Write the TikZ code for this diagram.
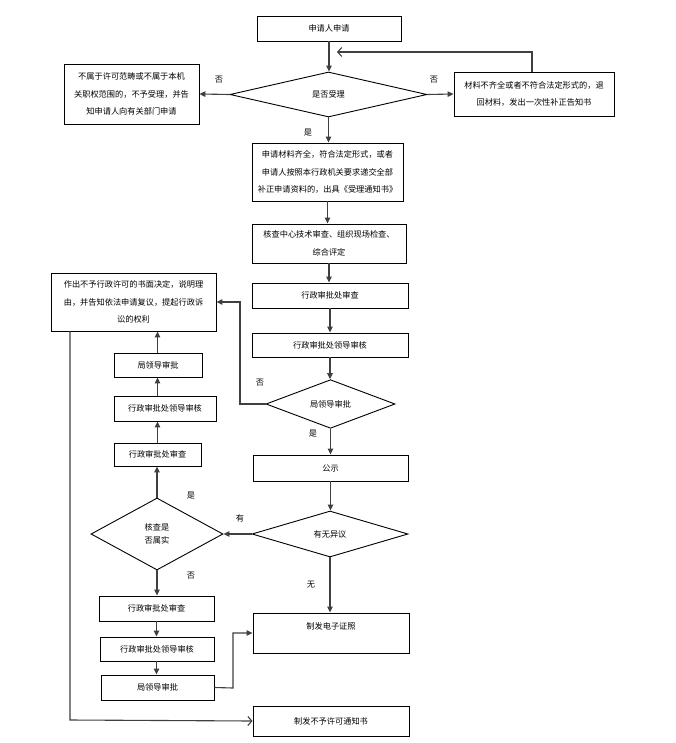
\documentclass[tikz,border=0pt]{standalone}
\usepackage{fontspec}
\setmainfont{Noto Sans CJK SC}
\usetikzlibrary{shapes.geometric,arrows.meta}
\begin{document}
\begin{tikzpicture}[x=1pt,y=-1pt,
  every node/.style={font=\fontsize{8.2}{17.5}\selectfont},
  box/.style={draw=black,line width=0.9pt,rectangle,inner sep=0pt,align=center},
  dia/.style={draw=black,line width=0.9pt,diamond,inner sep=0pt,align=center},
  lab/.style={inner sep=0pt},
  conn/.style={draw=black!75,line width=1.1pt,-{Triangle[length=6pt,width=5.5pt]}},
  openconn/.style={draw=black!75,line width=1.1pt,-{Straight Barb[length=4pt,width=9pt]}}
]
\useasboundingbox (0,0) rectangle (675,743);
\fill[white] (0,0) rectangle (675,743);

% nodes
\node[box,minimum width=144pt,minimum height=25pt] (apply) at (329,28.5) {申请人申请};
\node[dia,minimum width=197pt,minimum height=45pt] (d1) at (328.5,94.5) {是否受理};
\node[box,minimum width=135pt,minimum height=60pt] (leftno) at (131.5,94) {不属于许可范畴或不属于本机\\关职权范围的，不予受理，并告\\知申请人向有关部门申请};
\node[box,minimum width=160pt,minimum height=44pt] (rightno) at (534,94) {材料不齐全或者不符合法定形式的，退\\回材料，发出一次性补正告知书};
\node[box,minimum width=151pt,minimum height=58pt] (accept) at (327.5,172) {申请材料齐全，符合法定形式，或者\\申请人按照本行政机关要求递交全部\\补正申请资料的，出具《受理通知书》};
\node[box,minimum width=154pt,minimum height=39pt] (review) at (329,243.5) {核查中心技术审查、组织现场检查、\\综合评定};
\node[box,minimum width=156pt,minimum height=25pt] (r1) at (330,295.5) {行政审批处审查};
\node[box,minimum width=156pt,minimum height=24pt] (r2) at (330,345) {行政审批处领导审核};
\node[dia,minimum width=129pt,minimum height=46pt] (d2) at (330.5,404) {局领导审批};
\node[box,minimum width=165pt,minimum height=58pt] (refuse) at (133.5,302) {作出不予行政许可的书面决定，说明理\\由，并告知依法申请复议，提起行政诉\\讼的权利};
\node[box,minimum width=88pt,minimum height=24pt] (L3) at (158,365) {局领导审批};
\node[box,minimum width=102pt,minimum height=25pt] (L2) at (165,408.5) {行政审批处领导审核};
\node[box,minimum width=87pt,minimum height=23pt] (L1) at (157.5,454.5) {行政审批处审查};
\node[box,minimum width=155pt,minimum height=26pt] (gs) at (330.5,468) {公示};
\node[dia,minimum width=156pt,minimum height=46pt] (d3) at (330,534) {有无异议};
\node[dia,minimum width=132pt,minimum height=72pt,font=\fontsize{8.2}{12.5}\selectfont] (d4) at (157,534) {核查是\\否属实};
\node[box,minimum width=115pt,minimum height=25pt] (B1) at (156.5,608.5) {行政审批处审查};
\node[box,minimum width=114pt,minimum height=24pt] (B2) at (157,649) {行政审批处领导审核};
\node[box,minimum width=113pt,minimum height=25pt] (B3) at (157.5,687.5) {局领导审批};
\node[box,minimum width=156pt,minimum height=40pt,text height=8pt,text depth=16pt] (cert) at (331,633) {制发电子证照};
\node[box,minimum width=156pt,minimum height=30pt] (notice) at (331,721) {制发不予许可通知书};

% auxiliary coordinates
\coordinate (fb) at (337,52);
\coordinate (k1) at (240,404);
\coordinate (k2) at (233,688);
\coordinate (k3) at (70,720);

% connectors
\draw[conn] (apply.south) -- (apply.south |- d1.north);
\draw[conn] (d1.west) -- (leftno.east);
\draw[conn] (d1.east) -- (rightno.west);
\draw[openconn] ([xshift=-2pt]rightno.north) |- (fb);
\draw[conn] (d1.south) -- (d1.south |- accept.north);
\draw[conn] (accept.south) -- (accept.south |- review.north);
\draw[conn] (review.south) -- (review.south |- r1.north);
\draw[conn] (r1.south) -- (r2.north);
\draw[conn] (r2.south) -- (r2.south |- d2.north);
\draw[conn] (d2.west) -- (k1) |- (refuse.east);
\draw[conn] (d2.south) -- (d2.south |- gs.north);
\draw[conn] (gs.south) -- (gs.south |- d3.north);
\draw[conn] (d3.west) -- (d4.east);
\draw[conn] (d4.north) -- (d4.north |- L1.south);
\draw[conn] (L1.north) -- (L1.north |- L2.south);
\draw[conn] (L1.north |- L2.north) -- (L1.north |- L3.south);
\draw[conn] (L1.north |- L3.north) -- (L1.north |- refuse.south);
\draw[conn] (d4.south) -- (d4.south |- B1.north);
\draw[conn] (B1.south) -- (B1.south |- B2.north);
\draw[conn] (B1.south |- B2.south) -- (B1.south |- B3.north);
\draw[conn] (B3.east) -- (k2) |- (cert.west);
\draw[conn] (d3.south) -- (d3.south |- cert.north);
\draw[openconn] (refuse.south -| k3) -- (k3) -- (notice.west);

% labels
\node[lab] (l1) at (219,80) {否};
\node[lab] (l2) at (434,80) {否};
\node[lab] (l3) at (308,133) {是};
\node[lab] (l4) at (260,383) {否};
\node[lab] (l5) at (313,434) {是};
\node[lab] (l6) at (240,518) {有};
\node[lab] (l7) at (191,496) {是};
\node[lab] (l8) at (191,576) {否};
\node[lab] (l9) at (311,585) {无};
\end{tikzpicture}
\end{document}
